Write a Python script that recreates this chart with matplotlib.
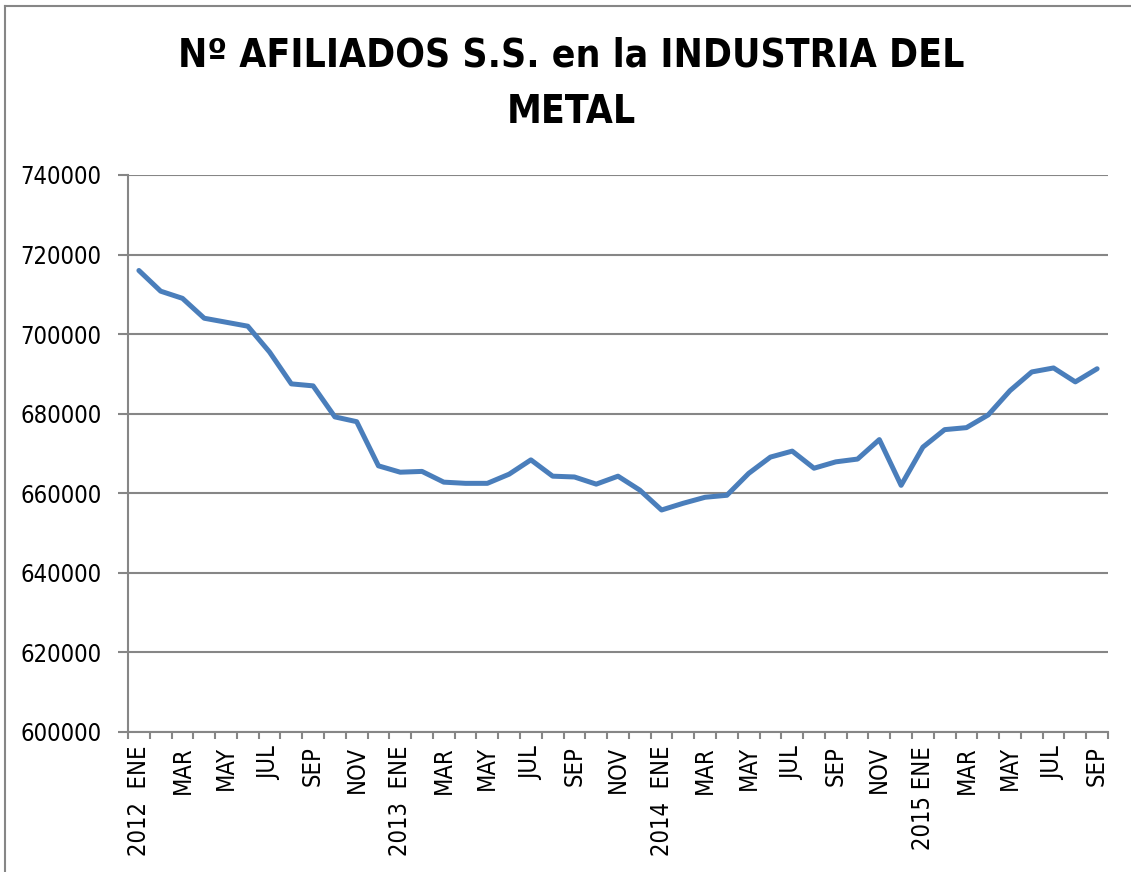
import matplotlib
matplotlib.use("Agg")
import matplotlib.pyplot as plt
from matplotlib.lines import Line2D
from matplotlib import font_manager
import numpy as np

# Monthly members, Jan 2012 - Sep 2015
afiliados = [
    716000, 710800, 709000, 704000, 703000, 702000, 695500, 687500, 687000, 679200,
    678000, 666900, 665300, 665500, 662800, 662500, 662500, 664800, 668400, 664300,
    664100, 662300, 664300, 660800, 655800, 657500, 659000, 659500, 665000, 669100,
    670600, 666300, 667900, 668600, 673500, 662000, 671600, 676000, 676500, 679700,
    685800, 690500, 691500, 688000, 691300,
]
meses = ["ENE", "MAR", "MAY", "JUL", "SEP", "NOV"]
etiquetas = []
for anio in ["2012  ", "2013  ", "2014  ", "2015 "]:
    for i, m in enumerate(meses):
        etiquetas.append(anio + m if i == 0 else m)
etiquetas = etiquetas[:23]
y_ticks = [600000, 620000, 640000, 660000, 680000, 700000, 720000, 740000]

GRIS = "#868686"
AZUL = "#4A7EBB"

# look for a condensed face, else fall back
cond = [f for f in font_manager.fontManager.ttflist if "Condensed" in f.fname or "Narrow" in f.fname]
FUENTE = ["DejaVu Sans"]
ESTIRA = "normal"
if cond:
    FUENTE = [cond[0].name, "DejaVu Sans"]
    ESTIRA = "condensed"

fig = plt.figure(figsize=(11.31, 8.72), dpi=100)
ax = fig.add_axes([128 / 1131, 1 - 732 / 872, 980 / 1131, 557 / 872])

x = np.arange(len(afiliados))
ax.plot(x, afiliados, color=AZUL, lw=3.6, solid_joinstyle="round", solid_capstyle="round", zorder=3)

ax.set_xlim(-0.5, len(afiliados) - 0.5)
ax.set_ylim(600000, 740000)
ax.set_yticks(y_ticks)
ax.set_yticklabels([str(v) for v in y_ticks], family=FUENTE, stretch=ESTIRA, fontsize=17)
ax.yaxis.grid(True, color=GRIS, lw=1.5)
ax.set_axisbelow(True)

ax.set_xticks(x[::2])
ax.set_xticklabels(etiquetas, rotation=90, family=FUENTE, stretch=ESTIRA, fontsize=17, va="top")
ax.set_xticks(np.arange(-0.5, len(afiliados), 1), minor=True)
ax.tick_params(axis="x", which="major", length=0, pad=10)
ax.tick_params(axis="x", which="minor", length=5, width=1.5, color=GRIS)
ax.tick_params(axis="y", length=7, width=1.5, color=GRIS, pad=12)

for lado in ["top", "right"]:
    ax.spines[lado].set_visible(False)
for lado in ["left", "bottom"]:
    ax.spines[lado].set_color(GRIS)
    ax.spines[lado].set_linewidth(1.5)

fig.text(571 / 1131, 0.958, "Nº AFILIADOS S.S. en la INDUSTRIA DEL\nMETAL",
         ha="center", va="top", family=FUENTE, stretch=ESTIRA, fontsize=28, fontweight="bold",
         linespacing=1.6)

# chart border
fig.add_artist(Line2D([5 / 1131, 5 / 1131], [0, 1 - 6 / 872], color=GRIS, lw=1.5))
fig.add_artist(Line2D([5 / 1131, 1], [1 - 6 / 872, 1 - 6 / 872], color=GRIS, lw=1.5))

fig.savefig("out.png", dpi=100)
